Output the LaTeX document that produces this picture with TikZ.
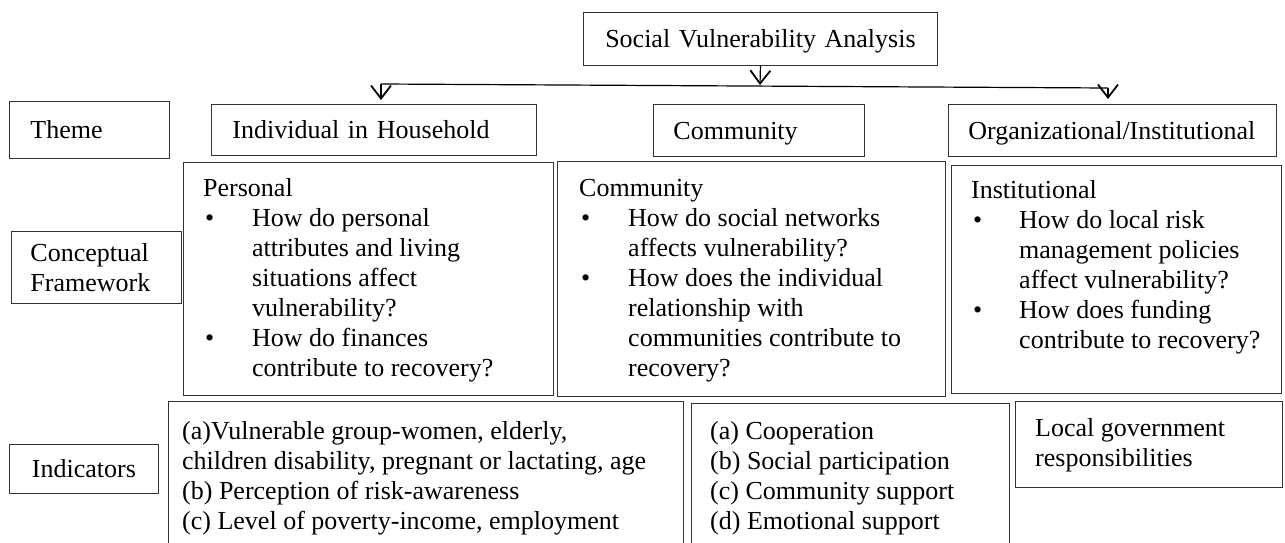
\documentclass[tikz,border=0pt]{standalone}
\usepackage{fontspec}
\setmainfont{Liberation Serif}
\usetikzlibrary{arrows.meta}
\begin{document}
\begin{tikzpicture}[x=1pt,y=-1pt,
  bx/.style={draw=black!80, line width=0.9pt, anchor=north west, inner sep=0pt},
  lab/.style={draw=black!80, line width=0.9pt, anchor=north west, inner ysep=0pt,
    inner xsep=20pt, align=left, font=\fontsize{26}{30}\selectfont},
  oneline/.style={text height=20pt, text depth=2pt},
  tx/.style={anchor=north west, inner sep=0pt, font=\fontsize{26}{30}\selectfont},
  arr/.style={line width=1.2pt, -{Straight Barb[length=13pt,width=20pt,line width=1.8pt]}},
  conn/.style={line width=1.2pt}
]
\clip (0,0) rectangle (1285,543);
% top
\node[lab, oneline, align=center, text width=314pt, minimum height=53pt] (top) at (583,12) {Social Vulnerability Analysis};
% row labels
\node[lab, oneline, inner xsep=21pt, text width=118pt, minimum height=57pt] (theme) at (9,101) {Theme};
\node[lab, inner xsep=19pt, text width=132pt, minimum height=72pt] (cf) at (11,231) {Conceptual\\Framework};
\node[lab, oneline, align=center, text width=109pt, minimum height=49pt] (indl) at (9,444) {Indicators};
% themes
\node[lab, oneline, inner xsep=21pt, text width=283pt, minimum height=51pt] (ind) at (211,104) {Individual in Household};
\node[lab, oneline, text width=171pt, minimum height=52pt] (com) at (653,104) {Community};
\node[lab, oneline, text width=288pt, minimum height=52pt] (org) at (948,104) {Organizational/Institutional};
% connectors
\coordinate (jl) at (381,84);
\coordinate (jm) at (760,85);
\coordinate (jr) at (1108,88);
\draw[arr] (top.south) -- (jm);
\draw[conn] (jl) -- (jr);
\draw[arr, shorten >=4pt] (jl) -- (jl |- ind.north);
\draw[arr, shorten >=5pt] (jr) -- (jr |- org.north);
% conceptual framework boxes
\node[bx, minimum width=370pt, minimum height=233pt] (pbox) at (183,162) {};
\node[bx, minimum width=388pt, minimum height=235pt] (cbox) at (557,161) {};
\node[bx, minimum width=330pt, minimum height=228pt] (ibox) at (951,165) {};
\node[tx] (ptxt) at (203,175) {\begin{tabular}{@{}p{49pt}@{}l@{}}
\multicolumn{2}{@{}l@{}}{Personal}\\
\hspace{2pt}\textbullet & How do personal\\
 & attributes and living\\
 & situations affect\\
 & vulnerability?\\
\hspace{2pt}\textbullet & How do finances\\
 & contribute to recovery?
\end{tabular}};
\node[tx] (ctxt) at (579,175) {\begin{tabular}{@{}p{49pt}@{}l@{}}
\multicolumn{2}{@{}l@{}}{Community}\\
\hspace{2pt}\textbullet & How do social networks\\
 & affects vulnerability?\\
\hspace{2pt}\textbullet & How does the individual\\
 & relationship with\\
 & communities contribute to\\
 & recovery?
\end{tabular}};
\node[tx] (itxt) at (971,177) {\begin{tabular}{@{}p{48pt}@{}l@{}}
\multicolumn{2}{@{}l@{}}{Institutional}\\
\hspace{2pt}\textbullet & How do local risk\\
 & management policies\\
 & affect vulnerability?\\
\hspace{2pt}\textbullet & How does funding\\
 & contribute to recovery?
\end{tabular}};
% indicator boxes
\node[bx, minimum width=515pt, minimum height=160pt] (pind) at (168,401) {};
\node[bx, minimum width=318pt, minimum height=160pt] (cind) at (691,403) {};
\node[bx, minimum width=267pt, minimum height=86pt] (lind) at (1015,401) {};
\node[tx] (pitxt) at (182,418) {\begin{tabular}{@{}l@{}}
(a)Vulnerable group-women, elderly,\\
children disability, pregnant or lactating, age\\
(b) Perception of risk-awareness\\
(c) Level of poverty-income, employment
\end{tabular}};
\node[tx] (citxt) at (710,418) {\begin{tabular}{@{}l@{}}
(a) Cooperation\\
(b) Social participation\\
(c) Community support\\
(d) Emotional support
\end{tabular}};
\node[tx] (litxt) at (1035,415) {\begin{tabular}{@{}l@{}}
Local government\\
responsibilities
\end{tabular}};
\end{tikzpicture}
\end{document}
